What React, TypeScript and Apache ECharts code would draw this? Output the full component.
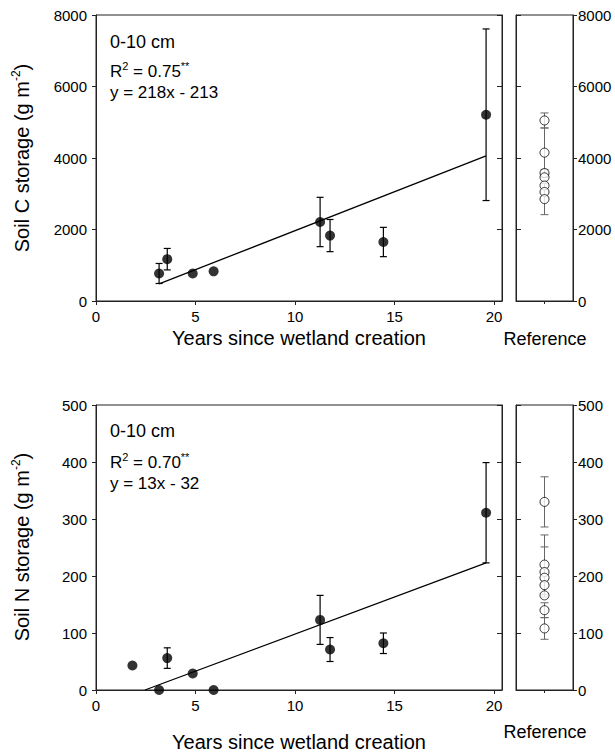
import React, { useEffect, useRef } from "react";
import * as echarts from "echarts";

// ---- Data ----
const xTicks = [0, 5, 10, 15, 20];

const yearsC = [3.17, 3.58, 4.86, 5.91, 11.26, 11.76, 14.44, 19.6];
const soilC = [770, 1170, 770, 830, 2210, 1830, 1650, 5210];
const soilCErr = [280, 300, 0, 0, 690, 450, 410, 2400];
const fitC = [[3.17, 478], [19.6, 4060]];

const yearsN = [1.83, 3.17, 3.58, 4.86, 5.91, 11.26, 11.76, 14.44, 19.6];
const soilN = [43, 0, 56, 29, 0, 123, 71, 82, 311];
const soilNErr = [0, 0, 18, 0, 0, 43, 21, 18, 88];
const fitN = [[2.46, 0], [19.6, 223]];

const refPos = 1;
const refC = [5050, 4150, 3580, 3460, 3230, 3050, 2850];
const refCErr = [210, 690, 100, 0, 0, 0, 435];
const refN = [330, 220, 207, 197, 184, 166, 140, 108];
const refNErr = [44, 52, 44, 0, 0, 0, 13, 19];

const FONT = "'Liberation Sans', Arial, Helvetica, sans-serif";
const AX = "#222";

function errRender(color: string, cap: number, width: number) {
  return (params: any, api: any) => {
    const x = api.value(0);
    const y = api.value(1);
    const e = api.value(2);
    if (!e) return { type: "group", children: [] };
    const top = api.coord([x, y + e]);
    const bot = api.coord([x, y - e]);
    const st = { stroke: color, lineWidth: width };
    return {
      type: "group",
      children: [
        { type: "line", shape: { x1: top[0], y1: top[1], x2: bot[0], y2: bot[1] }, style: st },
        { type: "line", shape: { x1: top[0] - cap, y1: top[1], x2: top[0] + cap, y2: top[1] }, style: st },
        { type: "line", shape: { x1: bot[0] - cap, y1: bot[1], x2: bot[0] + cap, y2: bot[1] }, style: st },
      ],
    };
  };
}

function App() {
  const ref = useRef<HTMLDivElement>(null);
  useEffect(() => {
    if (!ref.current) return;
    const chart = echarts.init(ref.current, null, { renderer: "svg" });

    const grids = [
      { left: 96, top: 15, width: 406, height: 286 },
      { left: 516, top: 15, width: 57, height: 286 },
      { left: 96, top: 405, width: 406, height: 285 },
      { left: 516, top: 405, width: 57, height: 285 },
    ].map((g) => ({ ...g, show: true, borderColor: AX, borderWidth: 1, backgroundColor: "transparent", containLabel: false }));

    const lineStyle = { color: AX, width: 1 };
    const labelStyle = { color: "#000", fontFamily: FONT, fontSize: 15, formatter: (v: number) => String(v) };

    const mainX = (gi: number) => ({
      type: "value", gridIndex: gi, min: 0, max: 20.4,
      axisLine: { show: true, lineStyle },
      axisTick: { show: true, inside: false, length: 4, lineStyle, customValues: xTicks },
      axisLabel: { ...labelStyle, margin: 8, customValues: xTicks },
      splitLine: { show: false },
    });
    const refX = (gi: number) => ({
      type: "value", gridIndex: gi, min: 0, max: 2,
      axisLine: { show: true, lineStyle },
      axisTick: { show: true, inside: false, length: 3, lineStyle, customValues: [refPos] },
      axisLabel: { show: false },
      splitLine: { show: false },
    });
    const yAx = (gi: number, max: number, interval: number, pos: string, labels: boolean, inside: boolean) => ({
      type: "value", gridIndex: gi, min: 0, max, interval, position: pos,
      axisLine: { show: true, lineStyle },
      axisTick: { show: true, inside, length: inside ? 5 : 4, lineStyle },
      axisLabel: labels ? { ...labelStyle, margin: pos === "left" ? 9 : 5 } : { show: false },
      splitLine: { show: false },
    });

    const rich = (size: number) => ({
      n: { fontFamily: FONT, fontSize: size, lineHeight: size + 4, color: "#000" },
      s: { fontFamily: FONT, fontSize: Math.round(size * 0.62), lineHeight: Math.round(size * 0.7), verticalAlign: "top", color: "#000" },
    });
    const txt = (x: number, y: number, text: string, size: number, extra: any = {}) => ({
      type: "text", x, y, ...extra,
      style: { text, rich: rich(size), font: `${size}px ${FONT}`, fill: "#000", align: extra.align || "left", verticalAlign: "middle" },
    });

    chart.setOption({
      animation: false,
      grid: grids,
      xAxis: [mainX(0), refX(1), mainX(2), refX(3)],
      yAxis: [
        yAx(0, 8000, 2000, "left", true, false),
        yAx(0, 8000, 2000, "right", false, true),
        yAx(1, 8000, 2000, "left", false, true),
        yAx(1, 8000, 2000, "right", true, false),
        yAx(2, 500, 100, "left", true, false),
        yAx(2, 500, 100, "right", false, true),
        yAx(3, 500, 100, "left", false, true),
        yAx(3, 500, 100, "right", true, false),
      ],
      series: [
        { type: "line", xAxisIndex: 0, yAxisIndex: 0, data: fitC, symbol: "none", lineStyle: { color: "#000", width: 1.3 }, z: 2 },
        { type: "custom", xAxisIndex: 0, yAxisIndex: 0, data: yearsC.map((x, i) => [x, soilC[i], soilCErr[i]]), renderItem: errRender("#000", 3.5, 1.2), z: 3 },
        { type: "scatter", xAxisIndex: 0, yAxisIndex: 0, data: yearsC.map((x, i) => [x, soilC[i]]), symbolSize: 10, itemStyle: { color: "#000" }, clip: false, z: 4 },

        { type: "custom", xAxisIndex: 1, yAxisIndex: 3, data: refC.map((v, i) => [refPos, v, refCErr[i]]), renderItem: errRender("#666", 4, 1), z: 3 },
        { type: "scatter", xAxisIndex: 1, yAxisIndex: 3, data: refC.map((v) => [refPos, v]), symbolSize: 9, itemStyle: { color: "#fff", borderColor: "#000", borderWidth: 1 }, z: 4 },

        { type: "line", xAxisIndex: 2, yAxisIndex: 4, data: fitN, symbol: "none", lineStyle: { color: "#000", width: 1.3 }, z: 2 },
        { type: "custom", xAxisIndex: 2, yAxisIndex: 4, data: yearsN.map((x, i) => [x, soilN[i], soilNErr[i]]), renderItem: errRender("#000", 3.5, 1.2), z: 3 },
        { type: "scatter", xAxisIndex: 2, yAxisIndex: 4, data: yearsN.map((x, i) => [x, soilN[i]]), symbolSize: 10, itemStyle: { color: "#000" }, clip: false, z: 4 },

        { type: "custom", xAxisIndex: 3, yAxisIndex: 7, data: refN.map((v, i) => [refPos, v, refNErr[i]]), renderItem: errRender("#666", 4, 1), z: 3 },
        { type: "scatter", xAxisIndex: 3, yAxisIndex: 7, data: refN.map((v) => [refPos, v]), symbolSize: 9, itemStyle: { color: "#fff", borderColor: "#000", borderWidth: 1 }, z: 4 },
      ],
      graphic: [
        txt(110, 42, "{n|0-10 cm}", 18),
        txt(110, 71, "{n|R}{s|2}{n| = 0.75}{s|**}", 17),
        txt(110, 92, "{n|y = 218x - 213}", 17),
        txt(110, 431, "{n|0-10 cm}", 18),
        txt(110, 462, "{n|R}{s|2}{n| = 0.70}{s|**}", 17),
        txt(110, 483, "{n|y = 13x - 32}", 17),
        txt(22, 158, "{n|Soil C storage (g m}{s|-2}{n|)}", 20, { rotation: Math.PI / 2, align: "center" }),
        txt(22, 547, "{n|Soil N storage (g m}{s|-2}{n|)}", 20, { rotation: Math.PI / 2, align: "center" }),
        txt(299, 338, "{n|Years since wetland creation}", 20, { align: "center" }),
        txt(299, 742, "{n|Years since wetland creation}", 20, { align: "center" }),
        txt(545, 339, "{n|Reference}", 18, { align: "center" }),
        txt(545, 732, "{n|Reference}", 18, { align: "center" }),
      ],
    });
    return () => chart.dispose();
  }, []);
  return (
    <div
      ref={ref}
      style={{ position: "absolute", left: 0, top: 0, width: 615, height: 753, background: "#fff" }}
    />
  );
}

export default App;
